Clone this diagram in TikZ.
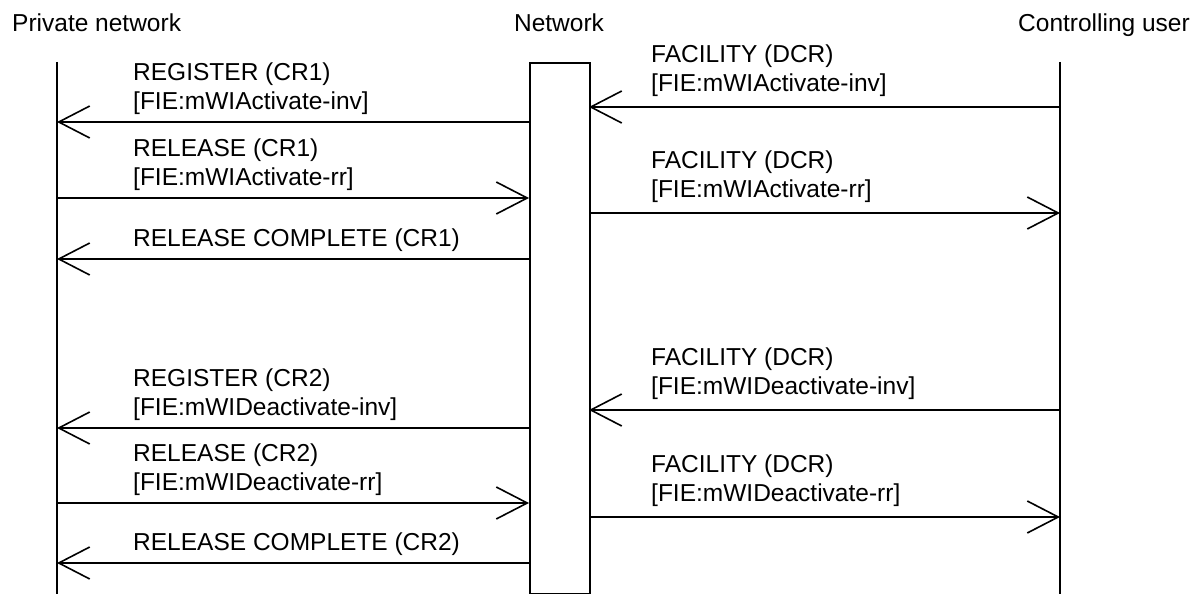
\documentclass[tikz,border=0pt]{standalone}
\usepackage{fontspec}
\setmainfont{Liberation Sans}
\usetikzlibrary{arrows.meta}

\begin{document}
\begin{tikzpicture}[x=1pt, y=-1pt,
    msg/.style={line width=1.6pt, -{Straight Barb[length=31pt, width=32pt]}},
    lbl/.style={font=\fontsize{24.5}{29.5}\selectfont, align=left, anchor=south west, inner sep=0pt},
    head/.style={font=\fontsize{24.5}{29.5}\selectfont, inner sep=0pt}]
    \useasboundingbox (0,0) rectangle (1203,594);

    \node[head, anchor=base west] (pnName) at (12,32) {Private network};
    \node[head, anchor=base] (netName) at (559,32) {Network};
    \node[head, anchor=base east] (cuName) at (1190,32) {Controlling user};

    \coordinate (pnTop) at (57,62);
    \coordinate (pnBot) at (57,594);
    \coordinate (cuTop) at (1060,62);
    \coordinate (cuBot) at (1060,594);
    \draw[line width=1.6pt] (pnTop) -- (pnBot);
    \draw[line width=1.6pt] (cuTop) -- (cuBot);
    \node[draw, line width=1.6pt, anchor=north west, inner sep=0pt,
          minimum width=60pt, minimum height=531pt] (net) at (529,62) {};

    \coordinate (P1) at (57,122);
    \coordinate (P2) at (57,198);
    \coordinate (P3) at (57,259);
    \coordinate (P4) at (57,428);
    \coordinate (P5) at (57,503);
    \coordinate (P6) at (57,563);
    \coordinate (N1) at (529,122);
    \coordinate (N2) at (529,198);
    \coordinate (N3) at (529,259);
    \coordinate (N4) at (529,428);
    \coordinate (N5) at (529,503);
    \coordinate (N6) at (529,563);

    \coordinate (M1) at (589,107);
    \coordinate (M2) at (589,213);
    \coordinate (M3) at (589,410);
    \coordinate (M4) at (589,517);
    \coordinate (C1) at (1060,107);
    \coordinate (C2) at (1060,213);
    \coordinate (C3) at (1060,410);
    \coordinate (C4) at (1060,517);

    \draw[msg] (N1) -- (P1);
    \draw[msg] (P2) -- (N2);
    \draw[msg] (N3) -- (P3);
    \draw[msg] (N4) -- (P4);
    \draw[msg] (P5) -- (N5);
    \draw[msg] (N6) -- (P6);
    \draw[msg] (C1) -- (M1);
    \draw[msg] (M2) -- (C2);
    \draw[msg] (C3) -- (M3);
    \draw[msg] (M4) -- (C4);

    \node[lbl] (l1) at (133,115) {REGISTER (CR1)\\ {[FIE:mWIActivate-inv]}};
    \node[lbl] (l2) at (133,191) {RELEASE (CR1)\\ {[FIE:mWIActivate-rr]}};
    \node[lbl] (l3) at (133,252) {RELEASE COMPLETE (CR1)};
    \node[lbl] (l4) at (133,421) {REGISTER (CR2)\\ {[FIE:mWIDeactivate-inv]}};
    \node[lbl] (l5) at (133,496) {RELEASE (CR2)\\ {[FIE:mWIDeactivate-rr]}};
    \node[lbl] (l6) at (133,556) {RELEASE COMPLETE (CR2)};
    \node[lbl] (r1) at (651,97) {FACILITY (DCR)\\ {[FIE:mWIActivate-inv]}};
    \node[lbl] (r2) at (651,203) {FACILITY (DCR)\\ {[FIE:mWIActivate-rr]}};
    \node[lbl] (r3) at (651,400) {FACILITY (DCR)\\ {[FIE:mWIDeactivate-inv]}};
    \node[lbl] (r4) at (651,507) {FACILITY (DCR)\\ {[FIE:mWIDeactivate-rr]}};
\end{tikzpicture}
\end{document}
